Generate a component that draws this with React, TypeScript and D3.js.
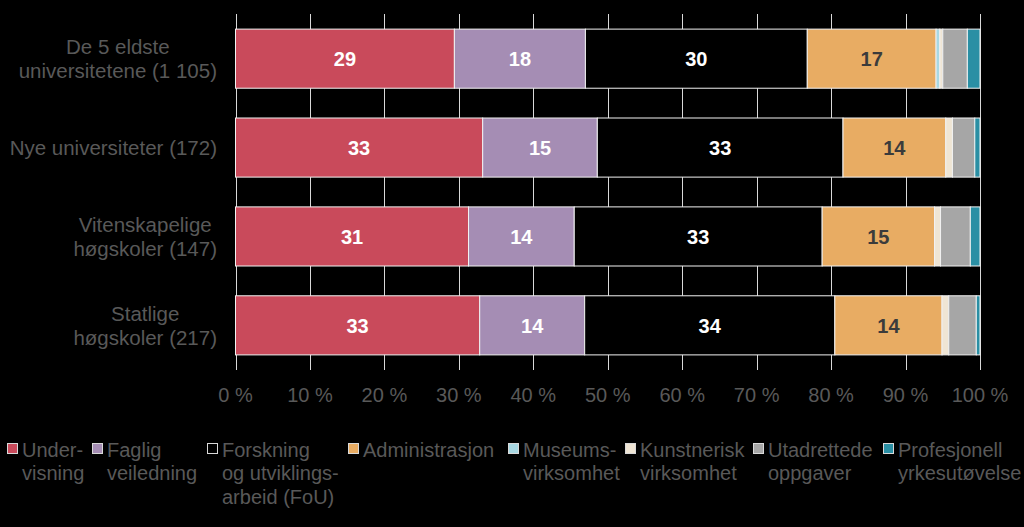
import React from "react";
import * as d3 from "d3";

const categories = [
  "De 5 eldste|universitetene (1 105)",
  "Nye universiteter (172)",
  "Vitenskapelige|høgskoler (147)",
  "Statlige|høgskoler (217)",
];

const seriesNames = [
  "Under-|visning",
  "Faglig|veiledning",
  "Forskning|og utviklings-|arbeid (FoU)",
  "Administrasjon",
  "Museums-|virksomhet",
  "Kunstnerisk|virksomhet",
  "Utadrettede|oppgaver",
  "Profesjonell|yrkesutøvelse",
];

const undervisning = [29.4, 33.2, 31.3, 32.8];
const fagligVeiledning = [17.6, 15.4, 14.2, 14.1];
const forskning = [29.8, 33.0, 33.3, 33.6];
const administrasjon = [17.3, 13.8, 15.1, 14.4];
const museum = [0.5, 0.0, 0.0, 0.0];
const kunstnerisk = [0.4, 0.9, 0.8, 0.9];
const utadrettede = [3.3, 3.0, 4.0, 3.7];
const profesjonell = [1.7, 0.7, 1.3, 0.5];

const seriesValues = [
  undervisning,
  fagligVeiledning,
  forskning,
  administrasjon,
  museum,
  kunstnerisk,
  utadrettede,
  profesjonell,
];

const colors = [
  "#c94a5b",
  "#a58db4",
  "#000000",
  "#e8ac63",
  "#a8d8e2",
  "#efe5d4",
  "#a6a6a6",
  "#2a8fa4",
];
const labelColors = ["#ffffff", "#ffffff", "#ffffff", "#3b3b3b"];
const xTicks = [0, 10, 20, 30, 40, 50, 60, 70, 80, 90, 100];

const FONT = "'Liberation Sans', Arial, sans-serif";
const TEXT_GRAY = "#595959";

function measure(text: string, size: number) {
  const c = document.createElement("canvas").getContext("2d");
  if (!c) return text.length * size * 0.5;
  c.font = `${size}px 'Liberation Sans', Arial, sans-serif`;
  return c.measureText(text).width;
}

export default function App() {
  const W = 1024;
  const H = 527;
  const margin = { left: 235.5, right: 44, top: 14, bottom: 157 };
  const x = d3.scaleLinear().domain([0, 100]).range([margin.left, W - margin.right]);
  const y = d3
    .scaleBand<string>()
    .domain(categories)
    .range([margin.top, H - margin.bottom])
    .paddingInner(0.335)
    .paddingOuter(0.17);

  const rows = categories.map((c, i) => {
    const r: any = { cat: c };
    seriesNames.forEach((s, j) => (r[s] = seriesValues[j][i]));
    return r;
  });
  const stacked = d3.stack<any>().keys(seriesNames)(rows);

  const catFont = 20.5;
  const labelRight = 217;

  const legendX = [7, 92, 207, 348, 508, 625, 753, 883];

  return (
    <svg
      width={W}
      height={H}
      style={{ position: "absolute", left: 0, top: 0, display: "block" }}
      fontFamily={FONT}
    >
      <rect x={0} y={0} width={W} height={H} fill="#000" />
      {/* gridlines */}
      {xTicks.map((t) => (
        <line
          key={"g" + t}
          x1={Math.round(x(t)) + 0.5}
          x2={Math.round(x(t)) + 0.5}
          y1={margin.top}
          y2={H - margin.bottom}
          stroke="#d9d9d9"
          strokeWidth={1}
        />
      ))}
      {/* bars */}
      {stacked.map((layer, si) => (
        <g key={"s" + si}>
          {layer.map((d, ci) => {
            const w = x(d[1]) - x(d[0]);
            if (w <= 0) return null;
            return (
              <rect
                key={ci}
                x={x(d[0])}
                y={y(categories[ci])!}
                width={w}
                height={y.bandwidth()}
                fill={colors[si]}
                stroke="#f2f2f2"
                strokeWidth={1}
              />
            );
          })}
        </g>
      ))}
      {/* value labels */}
      {stacked.slice(0, 4).map((layer, si) => (
        <g key={"l" + si}>
          {layer.map((d, ci) => (
            <text
              key={ci}
              x={(x(d[0]) + x(d[1])) / 2}
              y={y(categories[ci])! + y.bandwidth() / 2 + 7.5}
              textAnchor="middle"
              fontSize={20}
              fontWeight="bold"
              fill={labelColors[si]}
            >
              {Math.round(d[1] - d[0])}
            </text>
          ))}
        </g>
      ))}
      {/* x tick labels */}
      {xTicks.map((t) => (
        <text
          key={"t" + t}
          x={x(t)}
          y={402}
          textAnchor="middle"
          fontSize={20}
          fill={TEXT_GRAY}
        >
          {t} %
        </text>
      ))}
      {/* category labels */}
      {categories.map((c) => {
        const lines = c.split("|");
        const maxW = Math.max(...lines.map((l) => measure(l, catFont)));
        const cx = labelRight - maxW / 2;
        const cy = y(c)! + y.bandwidth() / 2;
        const lh = 24;
        const y0 = cy + 7.5 - ((lines.length - 1) * lh) / 2;
        return (
          <text key={c} textAnchor="middle" fontSize={catFont} fill={TEXT_GRAY}>
            {lines.map((l, i) => (
              <tspan key={i} x={cx} y={y0 + i * lh}>
                {l}
              </tspan>
            ))}
          </text>
        );
      })}
      {/* legend */}
      {seriesNames.map((s, i) => {
        const lines = s.split("|");
        return (
          <g key={"lg" + i}>
            <rect
              x={legendX[i] + 0.5}
              y={443.5}
              width={10}
              height={10}
              fill={colors[i]}
              stroke="#d9d9d9"
              strokeWidth={1}
            />
            <text fontSize={20} fill={TEXT_GRAY}>
              {lines.map((l, k) => (
                <tspan key={k} x={legendX[i] + 15} y={456.5 + k * 23.5}>
                  {l}
                </tspan>
              ))}
            </text>
          </g>
        );
      })}
    </svg>
  );
}
